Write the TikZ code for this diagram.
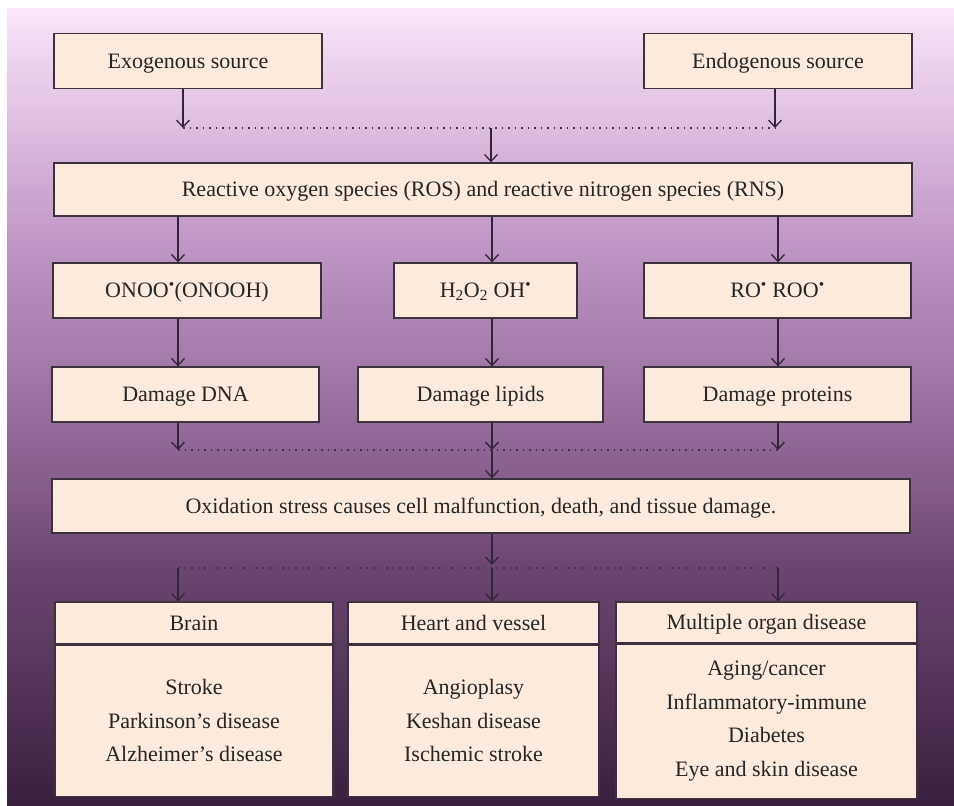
\documentclass[tikz,border=0pt]{standalone}
\usepackage{fontspec}
\setmainfont{Liberation Serif}
\usetikzlibrary{arrows.meta}
\definecolor{bgtop}{RGB}{250,230,250}
\definecolor{bgA}{RGB}{192,152,197}
\definecolor{bgB}{RGB}{142,102,147}
\definecolor{bgC}{RGB}{106,70,111}
\definecolor{bgbot}{RGB}{58,33,62}
\definecolor{boxfill}{RGB}{252,234,220}
\definecolor{boxline}{RGB}{60,50,62}
\definecolor{arr}{RGB}{52,36,58}
\definecolor{dotc}{RGB}{68,48,74}
\pgfdeclareverticalshading{bgshade}{100bp}{color(0bp)=(bgbot); color(25bp)=(bgbot); color(39.8bp)=(bgC); color(47.3bp)=(bgB); color(60.5bp)=(bgA); color(75bp)=(bgtop); color(100bp)=(bgtop)}
\begin{document}
\begin{tikzpicture}[x=1pt,y=-1pt,
  box/.style={draw=boxline, fill=boxfill, line width=1.3pt, minimum width=#1, minimum height=55pt, inner sep=0pt, align=center, font=\fontsize{22}{33.5}\selectfont, text=black!85},
  box/.default=268,
  one/.style={text height=16pt, text depth=2pt},
  conn/.style={draw=arr, line width=1.3pt, -{Straight Barb[length=7pt,width=13pt,line width=1.3pt]}},
  dots/.style={draw=dotc, line width=1.5pt, dash pattern=on 1.5pt off 5pt}]
\useasboundingbox (0,0) rectangle (954,806);
\fill[white] (0,0) rectangle (954,806);
\shade[shading=bgshade] (7,8) rectangle (954,806);

% row 1
\node[box=268, one] (exo) at (188,61) {Exogenous source};
\node[box=268, one] (endo) at (778,61) {Endogenous source};
\coordinate (j1l) at (183,128);
\coordinate (j1r) at (775,128);
\coordinate (j1m) at (491,128);
\draw[conn] (exo.south -| j1l) -- (j1l);
\draw[conn] (endo.south -| j1r) -- (j1r);
\draw[dots] (j1l) -- (j1r);

% ROS
\node[box=858, minimum height=53pt, one] (ros) at (483,189.5) {Reactive oxygen species (ROS) and reactive nitrogen species (RNS)};
\draw[conn] (j1m) -- (ros.north -| j1m);

% row 2
\node[box=268, one] (onoo) at (187,290.5) {ONOO\textsuperscript{\textbullet}(ONOOH)};
\node[box=183, one] (hoo) at (485.5,290.5) {H\textsubscript{2}O\textsubscript{2} OH\textsuperscript{\textbullet}};
\node[box=267, one] (ro) at (777.5,290.5) {RO\textsuperscript{\textbullet} ROO\textsuperscript{\textbullet}};
\coordinate (cl) at (178,0);
\coordinate (cm) at (492,0);
\coordinate (cr) at (778,0);
\draw[conn] (ros.south -| cl) -- (onoo.north -| cl);
\draw[conn] (ros.south -| cm) -- (hoo.north -| cm);
\draw[conn] (ros.south -| cr) -- (ro.north -| cr);

% row 3
\node[box=267, one] (dna) at (185.5,394.5) {Damage DNA};
\node[box=245, one] (lip) at (480.5,394.5) {Damage lipids};
\node[box=267, one] (pro) at (777.5,394.5) {Damage proteins};
\draw[conn] (onoo.south -| cl) -- (dna.north -| cl);
\draw[conn] (hoo.south -| cm) -- (lip.north -| cm);
\draw[conn] (ro.south -| cr) -- (pro.north -| cr);

\coordinate (j2l) at (178,450);
\coordinate (j2m) at (492,450);
\coordinate (j2r) at (778,450);
\draw[conn] (dna.south -| j2l) -- (j2l);
\draw[conn] (lip.south -| j2m) -- (j2m);
\draw[conn] (pro.south -| j2r) -- (j2r);
\draw[dots] (j2l) -- (j2r);

% oxidation
\node[box=858, minimum height=54pt, one] (ox) at (481,506) {Oxidation stress causes cell malfunction, death, and tissue damage.};
\draw[conn] (j2m) -- (ox.north -| j2m);

\coordinate (j3a) at (492,565);
\coordinate (j3l) at (178,568);
\coordinate (j3m) at (492,568);
\coordinate (j3r) at (778,568);
\draw[conn] (ox.south -| j3a) -- (j3a);
\draw[dots] (j3l) -- (j3r);

% bottom boxes
\node[box=278, minimum height=42pt, one] (brh) at (194,623) {Brain};
\node[box=278, minimum height=151pt, anchor=north] (brb) at (brh.south) {Stroke\\Parkinson’s disease\\Alzheimer’s disease};
\node[box=251, minimum height=42pt, one] (heh) at (473.5,623) {Heart and vessel};
\node[box=251, minimum height=151pt, anchor=north] (heb) at (heh.south) {Angioplasy\\Keshan disease\\Ischemic stroke};
\node[box=301, minimum height=41pt, one] (muh) at (766.5,622.5) {Multiple organ disease};
\node[box=301, minimum height=154pt, anchor=north] (mub) at (muh.south) {Aging/cancer\\Inflammatory-immune\\Diabetes\\Eye and skin disease};

\draw[conn] (j3l) -- (brh.north -| j3l);
\draw[conn] (j3m) -- (heh.north -| j3m);
\draw[conn] (j3r) -- (muh.north -| j3r);
\end{tikzpicture}
\end{document}
